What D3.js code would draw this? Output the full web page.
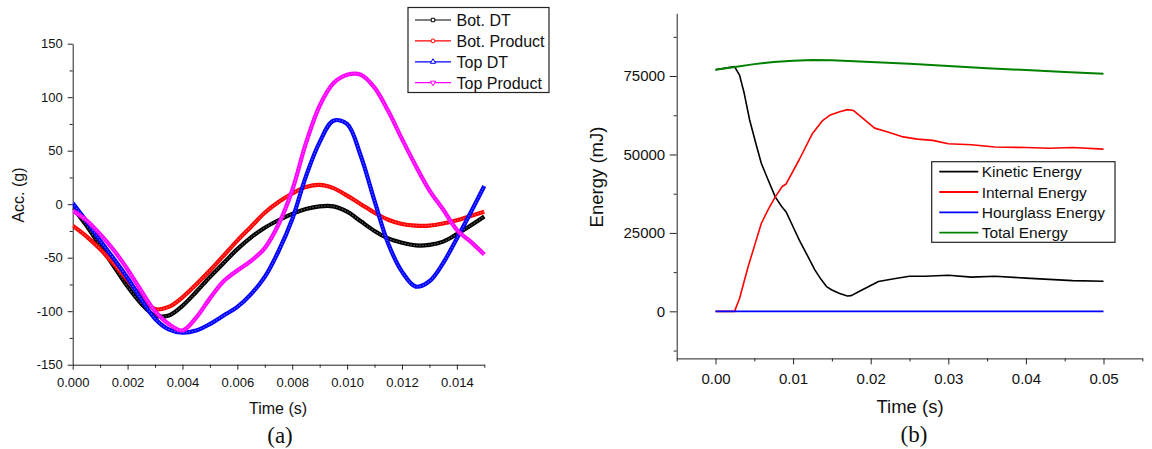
<!DOCTYPE html>
<html lang="en">
<head>
<meta charset="UTF-8">
<title>Acceleration and energy histories</title>
<script src="https://d3js.org/d3.v7.min.js"></script>
<style>
    body { margin: 0; background: #fff; }
    svg { display: block; }
    .axis path, .axis line { stroke: #222; }
    .axis text { fill: #111; font-family: "Liberation Sans", Arial, sans-serif; }
    .title { font-family: "Liberation Sans", Arial, sans-serif; fill: #111; }
    .cap { font-family: "Liberation Serif", "Times New Roman", serif; fill: #111; }
</style>
</head>
<body>
<div id="chart"></div>
<script>
// ---- panel (a): acceleration, one shared time base (s)
const timeA = [0, 0.0005, 0.001, 0.0015, 0.002, 0.0025, 0.003, 0.0035, 0.004, 0.0045,
    0.005, 0.0055, 0.006, 0.0065, 0.007, 0.0075, 0.008, 0.0085, 0.009, 0.0095,
    0.010, 0.0105, 0.011, 0.0115, 0.012, 0.0125, 0.013, 0.0135, 0.014, 0.0145, 0.015];
const botDT = [-3, -20, -39, -58, -77, -93, -104, -104, -95, -82,
    -68, -55, -42, -31, -22, -15, -9, -4.5, -2, -2,
    -7, -16, -25, -32, -36, -38.5, -38, -35, -28, -20, -11.5];
const botProduct = [-20, -30, -42, -56, -71, -86, -98, -96, -87, -75,
    -62, -48, -34, -21, -8, 2, 10, 16, 18, 15,
    8, 0, -8, -14.5, -18.5, -20, -20, -18, -15, -11, -7];
const topDT = [1, -16, -34, -51, -69, -89, -107, -117, -120, -118,
    -112, -104, -96, -84, -68, -44, -14, 26, 58, 78,
    75, 45, 3, -37, -63, -77, -72, -55, -32, -8, 17];
const topProduct = [-6, -15, -28, -43, -61, -81, -100, -112, -118, -106,
    -88, -72, -62, -53, -41, -19, 13, 57, 92, 113,
    121, 121, 109, 87, 61, 36, 13, -5, -24, -35, -47];
const seriesA = ["Bot. DT", "Bot. Product", "Top DT", "Top Product"];
const ticksAx = [0, 0.002, 0.004, 0.006, 0.008, 0.010, 0.012, 0.014];
const ticksAy = [-150, -100, -50, 0, 50, 100, 150];

// ---- panel (b): energy, each series on its own time base (s)
const timeKinetic = [0, 0.00245, 0.0031, 0.0037, 0.0044, 0.0052, 0.0059, 0.0068, 0.0077, 0.0085,
    0.0091, 0.0098, 0.0108, 0.0118, 0.0128, 0.0136, 0.0143, 0.015, 0.016, 0.017,
    0.0175, 0.0185, 0.0195, 0.021, 0.023, 0.025, 0.027, 0.03, 0.033, 0.036,
    0.04, 0.043, 0.046, 0.05];
const kinetic = [77000, 78000, 75300, 69500, 61000, 53500, 47200, 41800, 36500, 33500,
    31700, 28000, 22700, 18000, 13200, 10200, 7900, 6800, 5700, 4900,
    5000, 6300, 7600, 9500, 10400, 11200, 11200, 11500, 10900, 11200,
    10600, 10200, 9800, 9600];
const timeInternal = [0, 0.00245, 0.0031, 0.0042, 0.0051, 0.0059, 0.0068, 0.0077, 0.0086, 0.0091,
    0.0108, 0.0125, 0.0138, 0.0148, 0.016, 0.017, 0.0178, 0.019, 0.0205, 0.022,
    0.024, 0.026, 0.028, 0.03, 0.033, 0.036, 0.04, 0.043, 0.046, 0.05];
const internal = [0, 0, 4100, 14200, 21500, 28000, 32500, 36500, 39800, 40600,
    48400, 56700, 60800, 62600, 63600, 64300, 64000, 61500, 58400, 57300,
    55700, 54900, 54500, 53400, 53100, 52400, 52200, 52000, 52200, 51700];
const timeHourglass = [0, 0.01, 0.02, 0.03, 0.04, 0.05];
const hourglass = [0, 0, 0, 0, 0, 0];
const timeTotal = [0, 0.0025, 0.005, 0.0075, 0.01, 0.0125, 0.015, 0.02, 0.025, 0.03,
    0.035, 0.04, 0.045, 0.05];
const total = [77000, 77900, 78800, 79500, 79900, 80100, 80000, 79500, 78900, 78200,
    77500, 76900, 76300, 75700];
const seriesB = ["Kinetic Energy", "Internal Energy", "Hourglass Energy", "Total Energy"];
const ticksBx = [0, 0.01, 0.02, 0.03, 0.04, 0.05];
const ticksBy = [0, 25000, 50000, 75000];

const W = 1152, H = 449;
const svg = d3.select("#chart").append("svg").attr("width", W).attr("height", H);
const plain = d => String(d);   // keep ASCII hyphen for negatives

// ================= panel (a)
const xA = d3.scaleLinear().domain([0, 0.015]).range([72.7, 484.3]);
const yA = d3.scaleLinear().domain([-150, 150]).range([364.7, 43.7]);
const colorsA = ["#000000", "#ff0000", "#0000ff", "#ff00ff"];
const dataA = [botDT, botProduct, topDT, topProduct];

function minorAxis(axisFn, scale, values, size) {
    return axisFn(scale).tickValues(values).tickSize(size).tickFormat("");
}

const gA = svg.append("g");
gA.append("g").attr("class", "axis").attr("transform", `translate(0,${yA(-150)})`)
    .call(minorAxis(d3.axisBottom, xA, d3.range(0.001, 0.0151, 0.002), 3))
    .call(g => g.select(".domain").remove());
gA.append("g").attr("class", "axis").attr("transform", `translate(0,${yA(-150)})`)
    .call(d3.axisBottom(xA).tickValues(ticksAx).tickSize(5).tickPadding(8).tickSizeOuter(0)
        .tickFormat(d3.format(".3f")))
    .call(g => g.selectAll("text").style("font-size", "13px"));
gA.append("g").attr("class", "axis").attr("transform", `translate(${xA(0)},0)`)
    .call(minorAxis(d3.axisLeft, yA, [-125, -75, -25, 25, 75, 125], 3))
    .call(g => g.select(".domain").remove());
gA.append("g").attr("class", "axis").attr("transform", `translate(${xA(0)},0)`)
    .call(d3.axisLeft(yA).tickValues(ticksAy).tickSize(5).tickPadding(5).tickSizeOuter(0)
        .tickFormat(plain))
    .call(g => g.selectAll("text").style("font-size", "13px"));

const lineA = d3.line().x(d => xA(d[0])).y(d => yA(d[1])).curve(d3.curveCatmullRom);
gA.append("clipPath").attr("id", "clipA").append("rect")
    .attr("x", xA(0)).attr("y", yA(150)).attr("width", xA(0.015) - xA(0) + 2).attr("height", yA(-150) - yA(150));
dataA.forEach((vals, i) => {
    const pts = timeA.map((t, k) => [t, vals[k]]);
    gA.append("path").attr("d", lineA(pts)).attr("fill", "none")
        .attr("stroke", colorsA[i]).attr("stroke-width", 4.2).attr("clip-path", "url(#clipA)");
    gA.append("path").attr("d", lineA(pts)).attr("fill", "none")
        .attr("stroke", "#fff").attr("stroke-opacity", 0.35).attr("stroke-width", 1.2)
        .attr("stroke-dasharray", "1.5 1.5").attr("clip-path", "url(#clipA)");
});

gA.append("text").attr("class", "title").attr("text-anchor", "middle")
    .attr("transform", "translate(24,195) rotate(-90)").style("font-size", "16px").text("Acc. (g)");
gA.append("text").attr("class", "title").attr("text-anchor", "middle")
    .attr("x", 278).attr("y", 414).style("font-size", "16px").text("Time (s)");
gA.append("text").attr("class", "cap").attr("text-anchor", "middle")
    .attr("x", 280).attr("y", 443).style("font-size", "23px").text("(a)");

// legend (a)
const legA = gA.append("g");
legA.append("rect").attr("x", 408).attr("y", 7.5).attr("width", 141).attr("height", 85)
    .attr("fill", "#fff").attr("stroke", "#222").attr("stroke-width", 1.2);
const symbolsA = [d3.symbolSquare, d3.symbolCircle, d3.symbolTriangle, d3.symbolTriangle];
seriesA.forEach((name, i) => {
    const yy = 20 + i * 20.9;
    legA.append("line").attr("x1", 415).attr("x2", 451).attr("y1", yy).attr("y2", yy)
        .attr("stroke", colorsA[i]).attr("stroke-width", 1.2);
    legA.append("path").attr("d", d3.symbol().type(symbolsA[i]).size(12)())
        .attr("transform", `translate(433,${yy})` + (i === 3 ? " rotate(180)" : ""))
        .attr("fill", "#fff").attr("stroke", colorsA[i]).attr("stroke-width", 1);
    legA.append("text").attr("class", "title").attr("x", 456.5).attr("y", yy + 5.8)
        .style("font-size", "16px").text(name);
});

// ================= panel (b)
const xB = d3.scaleLinear().domain([-0.005, 0.055]).range([676.7, 1142.3]);
const yB = d3.scaleLinear().domain([-15000, 95000]).range([358.4, 13.3]);
const colorsB = ["#000000", "#ff0000", "#0000ff", "#008000"];
const dataB = [[timeKinetic, kinetic], [timeInternal, internal], [timeHourglass, hourglass], [timeTotal, total]];

const gB = svg.append("g");
gB.append("g").attr("class", "axis").attr("transform", `translate(0,${yB(-15000)})`)
    .call(minorAxis(d3.axisBottom, xB, d3.range(-0.005, 0.0551, 0.01), 3))
    .call(g => g.select(".domain").remove());
gB.append("g").attr("class", "axis").attr("transform", `translate(0,${yB(-15000)})`)
    .call(d3.axisBottom(xB).tickValues(ticksBx).tickSize(6).tickPadding(8.5).tickSizeOuter(0)
        .tickFormat(d3.format(".2f")))
    .call(g => g.selectAll("text").style("font-size", "15px"));
gB.append("g").attr("class", "axis").attr("transform", `translate(${xB(-0.005)},0)`)
    .call(minorAxis(d3.axisLeft, yB, [-12500, 12500, 37500, 62500, 87500], 3))
    .call(g => g.select(".domain").remove());
gB.append("g").attr("class", "axis").attr("transform", `translate(${xB(-0.005)},0)`)
    .call(d3.axisLeft(yB).tickValues(ticksBy).tickSize(7).tickPadding(4.5).tickSizeOuter(0)
        .tickFormat(plain))
    .call(g => g.selectAll("text").style("font-size", "15px"));

const lineB = d3.line().x(d => xB(d[0])).y(d => yB(d[1]));
dataB.forEach(([ts, vals], i) => {
    gB.append("path").attr("d", lineB(ts.map((t, k) => [t, vals[k]]))).attr("fill", "none")
        .attr("stroke", colorsB[i]).attr("stroke-width", i === 3 ? 2 : 1.6)
        .attr("stroke-linejoin", "round");
});

gB.append("text").attr("class", "title").attr("text-anchor", "middle")
    .attr("transform", "translate(603,177) rotate(-90)").style("font-size", "18.5px").text("Energy (mJ)");
gB.append("text").attr("class", "title").attr("text-anchor", "middle")
    .attr("x", 910).attr("y", 413).style("font-size", "18.5px").text("Time (s)");
gB.append("text").attr("class", "cap").attr("text-anchor", "middle")
    .attr("x", 914).attr("y", 442).style("font-size", "23px").text("(b)");

// legend (b)
const legB = gB.append("g");
legB.append("rect").attr("x", 931.7).attr("y", 161.7).attr("width", 183.3).attr("height", 80.6)
    .attr("fill", "#fff").attr("stroke", "#222").attr("stroke-width", 1.2);
seriesB.forEach((name, i) => {
    const yy = 171.7 + i * 20.3;
    legB.append("line").attr("x1", 939.3).attr("x2", 978.3).attr("y1", yy).attr("y2", yy)
        .attr("stroke", colorsB[i]).attr("stroke-width", 1.8);
    legB.append("text").attr("class", "title").attr("x", 981.7).attr("y", yy + 5.6)
        .style("font-size", "15.5px").text(name);
});
</script>
</body>
</html>
